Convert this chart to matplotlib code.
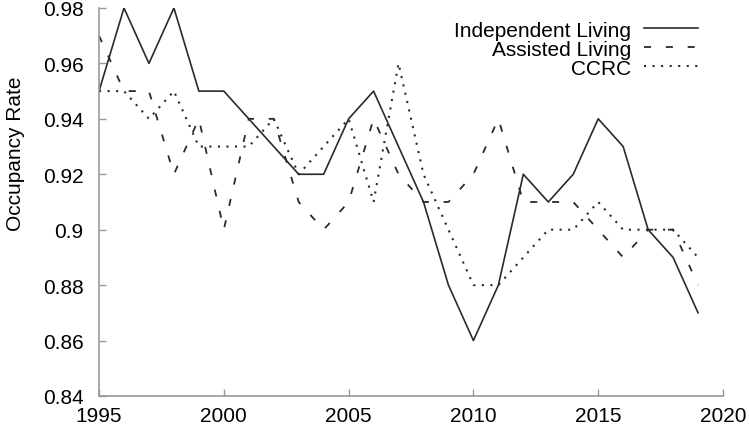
import matplotlib
matplotlib.use("Agg")
import matplotlib.pyplot as plt

years = list(range(1995, 2020))

independent_living = [0.95, 0.98, 0.96, 0.98, 0.95, 0.95, 0.94, 0.93, 0.92, 0.92,
                      0.94, 0.95, 0.93, 0.91, 0.88, 0.86, 0.88, 0.92, 0.91, 0.92,
                      0.94, 0.93, 0.90, 0.89, 0.87]
assisted_living = [0.97, 0.95, 0.95, 0.92, 0.94, 0.90, 0.94, 0.94, 0.91, 0.90,
                   0.91, 0.94, 0.92, 0.91, 0.91, 0.92, 0.94, 0.91, 0.91, 0.91,
                   0.90, 0.89, 0.90, 0.90, 0.88]
ccrc = [0.95, 0.95, 0.94, 0.95, 0.93, 0.93, 0.93, 0.94, 0.92, 0.93,
        0.94, 0.91, 0.96, 0.92, 0.90, 0.88, 0.88, 0.89, 0.90, 0.90,
        0.91, 0.90, 0.90, 0.90, 0.89]

x_ticks = [1995, 2000, 2005, 2010, 2015, 2020]
y_ticks = [0.84, 0.86, 0.88, 0.9, 0.92, 0.94, 0.96, 0.98]
y_tick_labels = ["0.84", "0.86", "0.88", "0.9", "0.92", "0.94", "0.96", "0.98"]

plt.rcParams["font.family"] = ["Liberation Sans", "DejaVu Sans"]

fig = plt.figure(figsize=(7.49, 4.27), dpi=100)
ax = fig.add_axes([0.1322, 0.0703, 0.8331, 0.9087])

ax.plot(years, independent_living, color="#2a2a2a", lw=1.2, linestyle="-",
        label="Independent Living")
ax.plot(years, assisted_living, color="#2a2a2a", lw=1.3, linestyle=(0, (3.9, 8.2)),
        label="Assisted Living")
ax.plot(years, ccrc, color="#2a2a2a", lw=1.5, linestyle=(0, (1, 3.1)),
        label="CCRC")

ax.set_xlim(1995, 2020)
ax.set_ylim(0.84, 0.98)
ax.set_xticks(x_ticks)
ax.set_yticks(y_ticks)
ax.set_yticklabels(y_tick_labels)
ax.set_ylabel("Occupancy Rate", fontsize=15)
ax.yaxis.set_label_coords(-0.118, 0.626)

for side in ["top", "right"]:
    ax.spines[side].set_visible(False)
for side in ["left", "bottom"]:
    ax.spines[side].set_color("#999999")
    ax.spines[side].set_linewidth(1.2)

ax.tick_params(axis="both", direction="in", length=5, width=1.0, color="#999999",
               labelsize=15, labelcolor="black")
ax.tick_params(axis="y", pad=11)
ax.tick_params(axis="x", pad=7.5)

ax.legend(loc="upper right", bbox_to_anchor=(0.96, 0.967), frameon=False,
          fontsize=15, markerfirst=False, handlelength=2.6, handletextpad=0.6,
          labelspacing=0.0, borderpad=0, borderaxespad=0)

fig.savefig("out.png", dpi=100)
